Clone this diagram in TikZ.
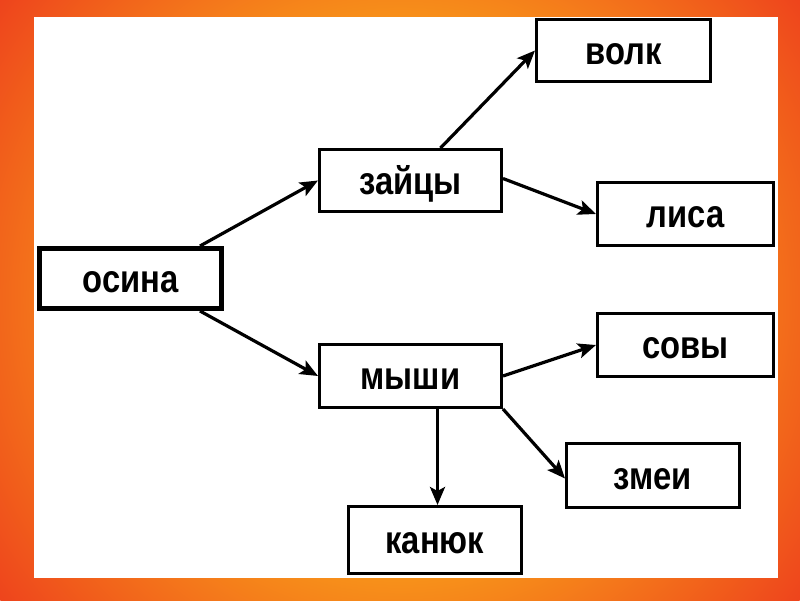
\documentclass[tikz,border=0pt]{standalone}
\usepackage{fontspec}
\setmainfont{Liberation Sans}[FakeStretch=0.84]
\usetikzlibrary{arrows.meta}
\definecolor{bgor}{HTML}{F7901A}
\definecolor{bgred}{HTML}{EE441C}
\pgfdeclareradialshading{bgshade}{\pgfpoint{0bp}{0bp}}{color(0bp)=(bgor); color(14bp)=(bgor); color(25bp)=(bgred); color(50bp)=(bgred)}
\tikzset{
  box/.style={draw=black, line width=3.4pt, fill=white, inner sep=0pt,
    text height=27pt, text depth=0pt, font=\fontsize{39pt}{39pt}\selectfont\bfseries},
  conn/.style={line width=3.2pt, -{Stealth[length=18pt,width=15pt,inset=4pt]}}
}
\begin{document}
\begin{tikzpicture}[x=1pt,y=-1pt]
\useasboundingbox (0,0) rectangle (800,600);
\begin{scope}
\clip (0,0) rectangle (800,600);
\shade[shading=bgshade] (400,300) circle (500);
\end{scope}
\fill[white] (34,17) rectangle (778,578);

\node[box, line width=5pt, minimum width=182pt, minimum height=60pt] (osina) at (130.5,278.5) {осина};
\node[box, minimum width=181.6pt, minimum height=61.6pt] (zaycy) at (410.5,180.5) {зайцы};
\node[box, minimum width=173.6pt, minimum height=61.6pt] (volk) at (623.5,50.5) {волк};
\node[box, minimum width=175.6pt, minimum height=62.6pt] (lisa) at (685.5,214) {лиса};
\node[box, minimum width=181.6pt, minimum height=62.6pt] (myshi) at (410.5,376) {мыши};
\node[box, minimum width=175.6pt, minimum height=62.6pt] (sovy) at (685.5,345) {совы};
\node[box, minimum width=172.6pt, minimum height=63.6pt] (zmei) at (653,475.5) {змеи};
\node[box, minimum width=172.6pt, minimum height=66.6pt] (kanyuk) at (435,540) {канюк};

\draw[conn] ([xshift=-24pt]osina.north east) -- (zaycy.west);
\draw[conn] ([xshift=-24pt]osina.south east) -- (myshi.west);
\draw[conn] ([xshift=30pt]zaycy.north) -- (volk.west);
\draw[conn] ([yshift=2pt]zaycy.east) -- (lisa.west);
\draw[conn] (myshi.east) -- (sovy.west);
\draw[conn] (myshi.south east) -- ([yshift=-3pt]zmei.west);
\draw[conn] ([xshift=27pt]myshi.south) -- ([xshift=27pt]myshi.south |- kanyuk.north);
\end{tikzpicture}
\end{document}
